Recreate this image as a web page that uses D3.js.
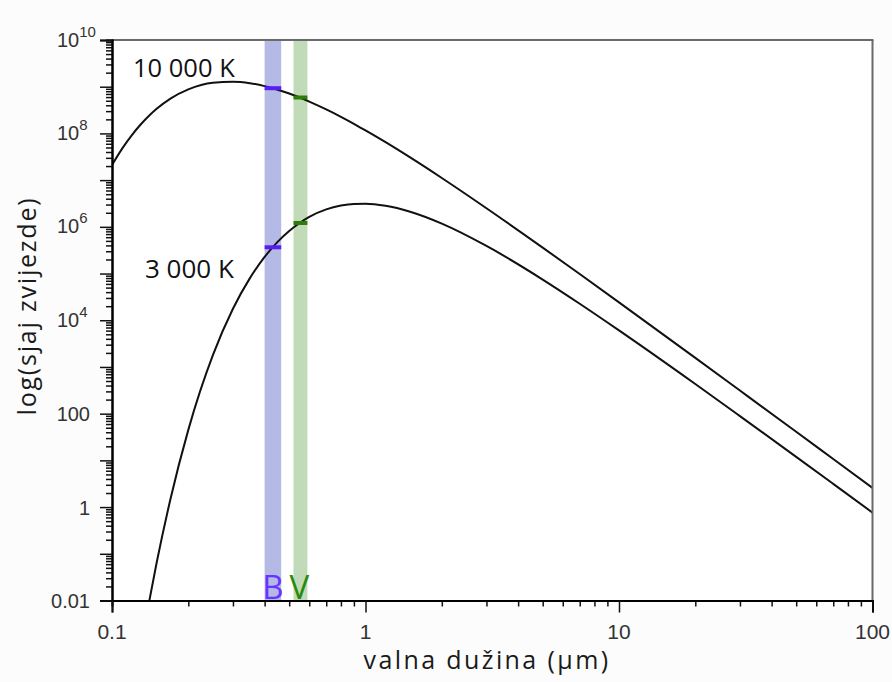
<!DOCTYPE html>
<html>
<head>
<meta charset="utf-8">
<script src="https://cdn.jsdelivr.net/npm/d3@7/dist/d3.min.js"></script>
<style>
  html, body { margin: 0; padding: 0; background: #fcfcfc; }
  svg { display: block; }
</style>
</head>
<body>
<svg id="chart" width="892" height="682"></svg>
<script>
// ---- data ----
const wavelength10k = [0.1, 0.11, 0.12, 0.13, 0.14, 0.15, 0.17, 0.2, 0.25, 0.3, 0.35, 0.4, 0.45, 0.5, 0.55, 0.6, 0.7, 0.8, 0.9, 1, 1.2, 1.5, 2, 3, 5, 7, 10, 20, 30, 50, 70, 100];
const radiance10k  = [2.11e7, 4.85e7, 9.33e7, 1.57e8, 2.39e8, 3.36e8, 5.57e8, 8.79e8, 1.22e9, 1.28e9, 1.19e9, 1.03e9, 8.64e8, 7.14e8, 5.87e8, 4.81e8, 3.27e8, 2.27e8, 1.61e8, 1.16e8, 6.49e7, 3.06e7, 1.11e7, 2.50e6, 3.59e5, 9.76e4, 2.42e4, 1568, 313, 41.0, 10.7, 2.58];

const wavelength3k = [0.13, 0.14, 0.15, 0.17, 0.2, 0.25, 0.3, 0.35, 0.4, 0.45, 0.5, 0.55, 0.6, 0.7, 0.8, 0.9, 1, 1.2, 1.5, 2, 3, 5, 7, 10, 20, 30, 50, 70, 100];
const radiance3k  = [9.6e-4, 9.2e-3, 0.0641, 1.47, 45.0, 1786, 1.76e4, 7.97e4, 2.27e5, 4.77e5, 8.18e5, 1.21e6, 1.63e6, 2.36e6, 2.85e6, 3.09e6, 3.12e6, 2.82e6, 2.10e6, 1.17e6, 3.90e5, 7.44e4, 2.26e4, 6.08e3, 432, 88.8, 11.9, 3.14, 0.762];

const curveLabels = ["10 000 K", "3 000 K"];

// filter bands (µm)
const bandNames  = ["B", "V"];
const bandStart  = [0.40, 0.52];
const bandEnd    = [0.465, 0.59];
const bandCenter = [0.43, 0.55];
// marker values on each curve at band centre
const markers10k = [9.29e8, 5.87e8];
const markers3k  = [3.65e5, 1.21e6];

// axis ticks
const xTickValues = [0.1, 1, 10, 100];
const xTickLabels = ["0.1", "1", "10", "100"];
const yTickValues = [0.01, 1, 100, 1e4, 1e6, 1e8, 1e10];
const yTickBase   = ["0.01", "1", "100", "10", "10", "10", "10"];
const yTickSup    = ["", "", "", "4", "6", "8", "10"];

const xTitle = "valna dužina (µm)";
const yTitle = "log(sjaj zvijezde)";

// ---- layout ----
const L = 112, R = 872.5, T = 40, B = 600.5;
const svg = d3.select("#chart");

const x = d3.scaleLog().domain([0.1, 100]).range([L, R]);
const y = d3.scaleLog().domain([0.01, 1e10]).range([B, T]);

const bandFill   = ["#b4b9e6", "#c1dbb8"];
const markerCol  = ["#5a1cf5", "#2b7c08"];
const labelCol   = ["#6a33ff", "#2a8a0c"];

// plot background
svg.append("rect").attr("x", L).attr("y", T).attr("width", R - L).attr("height", B - T).attr("fill", "#ffffff");

svg.append("clipPath").attr("id", "plotclip")
  .append("rect").attr("x", L).attr("y", T).attr("width", R - L).attr("height", B - T);

// bands
bandNames.forEach((n, i) => {
  svg.append("rect")
    .attr("x", x(bandStart[i])).attr("y", T)
    .attr("width", x(bandEnd[i]) - x(bandStart[i])).attr("height", B - T)
    .attr("fill", bandFill[i]);
});

// curves
const line = d3.line().x(d => x(d[0])).y(d => y(d[1])).curve(d3.curveMonotoneX);
const g = svg.append("g").attr("clip-path", "url(#plotclip)");
[[wavelength10k, radiance10k], [wavelength3k, radiance3k]].forEach(([w, r]) => {
  g.append("path")
    .datum(w.map((v, i) => [v, r[i]]))
    .attr("d", line)
    .attr("fill", "none")
    .attr("stroke", "#111")
    .attr("stroke-width", 2);
});

// markers
bandNames.forEach((n, i) => {
  [markers10k[i], markers3k[i]].forEach(v => {
    svg.append("line")
      .attr("x1", x(bandStart[i])).attr("x2", x(bandEnd[i]))
      .attr("y1", y(v)).attr("y2", y(v))
      .attr("stroke", markerCol[i]).attr("stroke-width", 4);
  });
});

// band labels
bandNames.forEach((n, i) => {
  svg.append("text")
    .attr("x", (x(bandStart[i]) + x(bandEnd[i])) / 2 + (i === 1 ? -1 : 0))
    .attr("y", 599)
    .attr("text-anchor", "middle")
    .attr("font-family", "Open Sans, sans-serif")
    .attr("font-size", 33)
    .attr("fill", labelCol[i])
    .text(n);
});

// curve labels
svg.append("text").attr("x", 133).attr("y", 77)
  .attr("font-family", "Open Sans, sans-serif").attr("font-size", 25.5).attr("fill", "#111")
  .text(curveLabels[0]);
svg.append("text").attr("x", 145).attr("y", 278)
  .attr("font-family", "Open Sans, sans-serif").attr("font-size", 26).attr("fill", "#111")
  .text(curveLabels[1]);

// minor tick values
const decadesY = d3.range(-2, 10);
const yMinor = [];
decadesY.forEach(e => { for (let k = 2; k <= 9; k++) yMinor.push(k * Math.pow(10, e)); });
const yMajor = d3.range(-2, 11).map(e => Math.pow(10, e));
const xMinor = [];
d3.range(-1, 2).forEach(e => { for (let k = 2; k <= 9; k++) xMinor.push(k * Math.pow(10, e)); });

// top & right frame (gray)
svg.append("line").attr("x1", L).attr("x2", R + 1).attr("y1", T).attr("y2", T)
  .attr("stroke", "#6a6a6a").attr("stroke-width", 2);
svg.append("line").attr("x1", R).attr("x2", R).attr("y1", T).attr("y2", B)
  .attr("stroke", "#6a6a6a").attr("stroke-width", 2);

// y axis
const yAxisG = svg.append("g").attr("transform", `translate(${L},0)`);
yAxisG.call(d3.axisLeft(y).tickValues(yMinor).tickSize(6).tickFormat(""));
yAxisG.append("g").call(d3.axisLeft(y).tickValues(yMajor).tickSize(12).tickFormat(""));
yAxisG.selectAll("path.domain").attr("stroke", "#000").attr("stroke-width", 2);
yAxisG.selectAll(".tick line").attr("stroke", "#111").attr("stroke-width", 1.5);

// x axis
const xAxisG = svg.append("g").attr("transform", `translate(0,${B})`);
xAxisG.call(d3.axisBottom(x).tickValues(xMinor).tickSize(6).tickFormat(""));
xAxisG.append("g").call(d3.axisBottom(x).tickValues(xTickValues).tickSize(12).tickFormat(""));
xAxisG.selectAll("path.domain").attr("stroke", "#000").attr("stroke-width", 2);
xAxisG.selectAll(".tick line").attr("stroke", "#111").attr("stroke-width", 1.5);

// y tick labels
yTickValues.forEach((v, i) => {
  const t = svg.append("text")
    .attr("font-family", "Liberation Sans, Arial, sans-serif")
    .attr("font-size", 20)
    .attr("fill", "#333");
  if (yTickSup[i]) {
    t.attr("x", 57).attr("y", y(v) + 6.5).attr("text-anchor", "start");
    t.append("tspan").text(yTickBase[i]);
    t.append("tspan").attr("font-size", 15).attr("dy", -10).text(yTickSup[i]);
  } else {
    t.attr("x", 90).attr("y", y(v) + 7.5).attr("text-anchor", "end").text(yTickBase[i]);
  }
});

// x tick labels
xTickValues.forEach((v, i) => {
  svg.append("text")
    .attr("x", x(v)).attr("y", 639)
    .attr("text-anchor", "middle")
    .attr("font-family", "Liberation Sans, Arial, sans-serif")
    .attr("font-size", 21)
    .attr("fill", "#333")
    .text(xTickLabels[i]);
});

// axis titles
svg.append("text")
  .attr("x", 487).attr("y", 669)
  .attr("text-anchor", "middle")
  .attr("font-family", "Open Sans, sans-serif")
  .attr("font-size", 25)
  .attr("letter-spacing", 2.4)
  .attr("fill", "#1a1a1a")
  .text(xTitle);

svg.append("text")
  .attr("transform", "translate(36,306) rotate(-90)")
  .attr("text-anchor", "middle")
  .attr("font-family", "Open Sans, sans-serif")
  .attr("font-size", 25)
  .attr("letter-spacing", 1.8)
  .attr("fill", "#1a1a1a")
  .text(yTitle);
</script>
</body>
</html>
